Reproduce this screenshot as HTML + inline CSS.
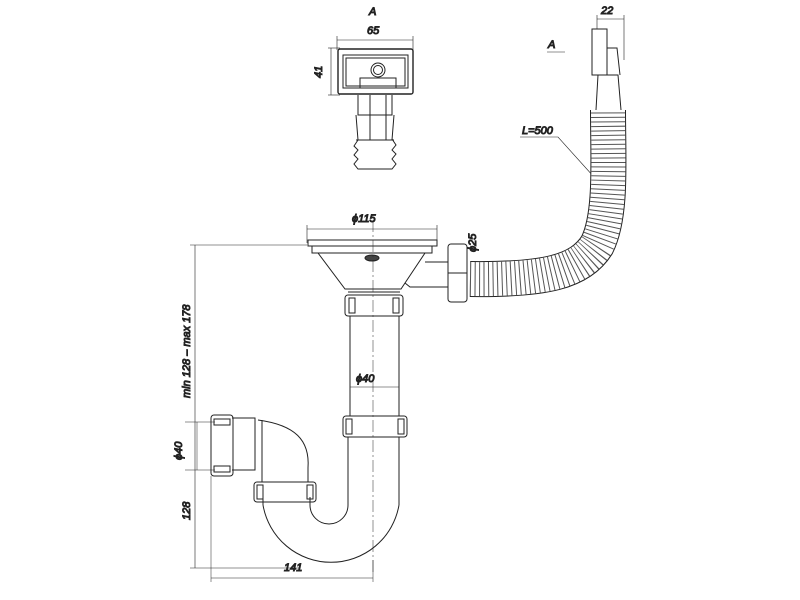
<!DOCTYPE html><html><head><style>body{margin:0;background:#fff}svg{display:block}text{font-family:"Liberation Sans",sans-serif;font-style:italic;font-size:11px;fill:#222}</style></head><body>
<svg width="800" height="600" viewBox="0 0 800 600" fill="none" stroke="#222" stroke-width="1">
<!-- top view -->
<text x="369" y="15">A</text><text x="367" y="34">65</text>
<line x1="337" y1="40" x2="413" y2="40" stroke-width=".6"/><line x1="337" y1="36" x2="337" y2="50" stroke-width=".6"/><line x1="413" y1="36" x2="413" y2="50" stroke-width=".6"/>
<line x1="331" y1="48" x2="331" y2="95" stroke-width=".6"/><line x1="328" y1="48" x2="340" y2="48" stroke-width=".6"/><line x1="328" y1="95" x2="340" y2="95" stroke-width=".6"/>
<text transform="translate(322,78) rotate(-90)">41</text>
<rect x="338" y="49" width="75" height="45" rx="2" stroke-width="1.4"/><rect x="343" y="55" width="65" height="33"/><rect x="346" y="58" width="59" height="28"/>
<circle cx="378" cy="70" r="7"/><circle cx="378" cy="70" r="4.5"/><path d="M360 88V78h36v10"/>
<path d="M358 95v20h34V95M356 115l2 25h34l2-25M356 140h38M370 95v45M386 95v45"/>
<path d="M358 140l-4 6 4 4-4 5 4 4-4 5 4 5h34l4-5-4-5 4-5-4-4 4-5-4-6"/>
<!-- right fitting -->
<text x="601" y="14">22</text><line x1="597" y1="19" x2="624" y2="19" stroke-width=".6"/><line x1="597" y1="15" x2="597" y2="30" stroke-width=".6"/><line x1="624" y1="15" x2="624" y2="60" stroke-width=".6"/>
<text x="548" y="48">A</text><line x1="547" y1="52" x2="565" y2="52" stroke-width=".6"/>
<text x="522" y="134">L=500</text><path d="M520 137h38l45 50" stroke-width=".6"/>
<!-- hose -->
<path d="M470 279C545 280 580 272 597 245C612 215 608 160 608 110" stroke="#222" stroke-width="36"/>
<path d="M470 279C545 280 580 272 597 245C612 215 608 160 608 110" stroke="#fff" stroke-width="34"/>
<path d="M470 279C545 280 580 272 597 245C612 215 608 160 608 110" stroke="#555" stroke-width="34" stroke-dasharray="1 3.5"/>
<rect x="592" y="29" width="15" height="46" fill="#fff"/><path d="M607 48h10l3 27M607 75h3"/>
<path d="M596 110l2-35h20l3 35" fill="#fff"/>
<!-- drain -->
<text x="352" y="222">ϕ115</text><line x1="307" y1="229" x2="437" y2="229" stroke-width=".6"/>
<line x1="307" y1="225" x2="307" y2="243" stroke-width=".6"/><line x1="437" y1="225" x2="437" y2="243" stroke-width=".6"/>
<rect x="308" y="240" width="129" height="6"/><path d="M312 246v7h120v-7"/>
<path d="M318 253l27 36h56l24-36"/><path d="M345 289h56M348 292h52"/>
<ellipse cx="372" cy="258" rx="7" ry="3" fill="#444"/>
<path d="M405 283l5 4h38M425 262h23"/>
<rect x="448" y="244" width="19" height="58" rx="3" fill="#fff"/><line x1="448" y1="273" x2="467" y2="273"/>
<text transform="translate(476,252) rotate(-90)">ϕ25</text>
<rect x="345" y="295" width="58" height="21" rx="3"/><rect x="349" y="298" width="6" height="15"/><rect x="393" y="298" width="6" height="15"/>
<path d="M350 316v100M399 316v100"/>
<text x="356" y="382">ϕ40</text><line x1="350" y1="387" x2="399" y2="387" stroke-width=".6"/>
<rect x="343" y="416" width="64" height="21" rx="3"/><rect x="346" y="419" width="6" height="15"/><rect x="398" y="419" width="6" height="15"/>
<path d="M348 437v68M399 437v68"/>
<path d="M399 505A69 69 0 0 1 263 505M348 505A19 19 0 0 1 310 505"/>
<path d="M263 505v-8M310 505v-8"/>
<rect x="254" y="482" width="62" height="20" rx="3"/><rect x="257" y="485" width="6" height="14"/><rect x="307" y="485" width="6" height="14"/>
<path d="M262 482v-14M308 482v-14M308 468C310 440 295 425 258 420M262 468V420"/>
<path d="M232 418h23v52h-23"/>
<rect x="211" y="415" width="22" height="61" rx="3"/><rect x="214" y="419" width="16" height="6"/><rect x="214" y="466" width="16" height="6"/>
<line x1="373" y1="220" x2="373" y2="575" stroke-width=".5" stroke-dasharray="12 3 2 3"/>
<!-- dims -->
<line x1="195" y1="245" x2="195" y2="568" stroke-width=".6"/><line x1="190" y1="245" x2="307" y2="245" stroke-width=".5"/><line x1="190" y1="568" x2="300" y2="568" stroke-width=".5"/>
<text transform="translate(190,398) rotate(-90)">min 128 – max 178</text>
<text transform="translate(190,520) rotate(-90)">128</text>
<line x1="185" y1="422" x2="215" y2="422" stroke-width=".5"/><line x1="185" y1="470" x2="215" y2="470" stroke-width=".5"/><line x1="197" y1="422" x2="197" y2="470" stroke-width=".5"/>
<text transform="translate(182,460) rotate(-90)">ϕ40</text>
<line x1="211" y1="476" x2="211" y2="582" stroke-width=".5"/><line x1="373" y1="560" x2="373" y2="582" stroke-width=".5"/><line x1="211" y1="578" x2="373" y2="578" stroke-width=".6"/>
<text x="284" y="571">141</text>
</svg></body></html>
